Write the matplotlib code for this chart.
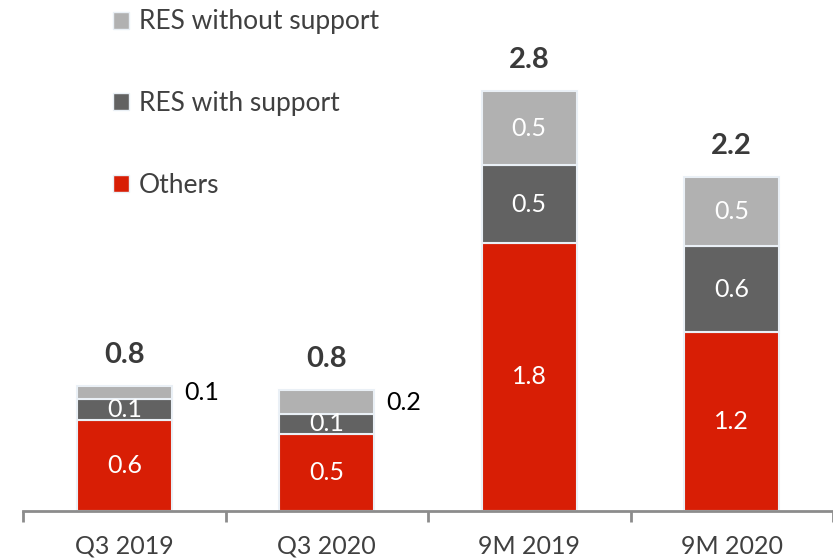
import numpy as np
import matplotlib.pyplot as plt
from matplotlib.patches import Patch

plt.rcParams['font.family'] = ['Lato', 'DejaVu Sans']

# DATA
categories = ['Q3 2019', 'Q3 2020', '9M 2019', '9M 2020']
others = [0.61, 0.52, 1.80, 1.20]
res_with = [0.14, 0.13, 0.52, 0.58]
res_without = [0.09, 0.16, 0.50, 0.46]
totals = [0.8, 0.8, 2.8, 2.2]

red = '#d81e05'
dark = '#626262'
light = '#b1b1b1'
edge = '#eaf0f6'

fig = plt.figure(figsize=(8.33, 5.58), dpi=100)
ax = fig.add_axes([23 / 833, 47 / 558, 1 - 23 / 833, 511 / 558])

x = np.arange(len(categories))
w = 0.47
ax.bar(x, others, w, color=red, edgecolor=edge, lw=1.5)
ax.bar(x, res_with, w, bottom=others, color=dark, edgecolor=edge, lw=1.5)
bot3 = np.array(others) + np.array(res_with)
ax.bar(x, res_without, w, bottom=bot3, color=light, edgecolor=edge, lw=1.5)

# segment labels
for i in range(len(x)):
    ax.text(x[i], others[i] / 2, f'{others[i]:.1f}', ha='center', va='center',
            color='white', fontsize=18)
    ax.text(x[i], others[i] + res_with[i] / 2, f'{res_with[i]:.1f}', ha='center',
            va='center', color='white', fontsize=18)
    top_mid = bot3[i] + res_without[i] / 2
    if res_without[i] < 0.3:
        ax.text(x[i] + w / 2 + 0.06, top_mid, f'{res_without[i]:.1f}', ha='left',
                va='center', color='black', fontsize=18)
    else:
        ax.text(x[i], top_mid, f'{res_without[i]:.1f}', ha='center', va='center',
                color='white', fontsize=18)
    ax.annotate(f'{totals[i]:.1f}', (x[i], bot3[i] + res_without[i]),
                xytext=(0, 13), textcoords='offset points', ha='center', va='bottom',
                fontsize=21, fontweight='bold', color='#3a3a3a')

ax.set_xlim(-0.5, 3.46)
ax.set_ylim(0, 3.43)
for s in ['top', 'right', 'left']:
    ax.spines[s].set_visible(False)
ax.spines['bottom'].set_color('#8c8c8c')
ax.spines['bottom'].set_linewidth(2)
ax.set_yticks([])
ax.set_xticks(x)
ax.set_xticklabels(categories, fontsize=18, color='#404040')
ax.tick_params(axis='x', which='major', length=0, pad=17)
ax.set_xticks(np.arange(-0.5, 3.6, 1.0), minor=True)
ax.tick_params(axis='x', which='minor', length=8, width=2, color='#8c8c8c')

handles = [Patch(facecolor=light, edgecolor=edge), Patch(facecolor=dark, edgecolor=edge),
           Patch(facecolor=red, edgecolor=edge)]
ax.legend(handles, ['RES without support', 'RES with support', 'Others'],
          loc='upper left', bbox_to_anchor=(66 / 810, 1.028), frameon=False,
          fontsize=19, labelspacing=2.15, handlelength=0.6, handleheight=0.6,
          handletextpad=0.4, labelcolor='#404040')

fig.savefig('out.png', dpi=100)
